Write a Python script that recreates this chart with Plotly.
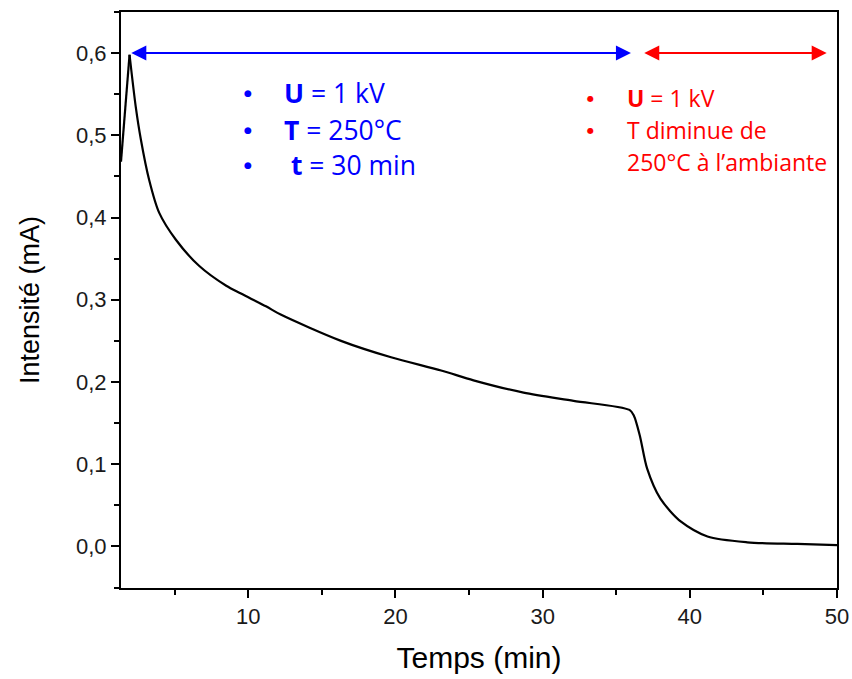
import plotly.graph_objects as go

# Data
temps_min = [1.35, 1.93, 2.35, 2.7, 3.26, 3.94, 5.08, 6.67, 8.5, 9.5, 11.2, 12.2,
             16.3, 19.7, 23.1, 25.3, 28.7, 32.1, 35.9, 36.2, 36.6, 37.1, 38.0,
             39.4, 41.2, 43.9, 47.3, 50.0]
intensite_mA = [0.468, 0.598, 0.535, 0.495, 0.446, 0.406, 0.373, 0.341, 0.317, 0.3075,
                0.292, 0.282, 0.250, 0.230, 0.214, 0.202, 0.187, 0.177, 0.166, 0.159,
                0.135, 0.0945, 0.058, 0.030, 0.012, 0.005, 0.003, 0.0015]
peak_index = 1

phase1_span = [1.95, 36.0]   # isotherm phase (blue arrow)
phase2_span = [36.8, 49.3]   # cooling phase (red arrow)
arrow_level = 0.6

blue_lines = ["<b>U</b> = 1 kV", "<b>T</b> = 250°C", " <b>t</b> = 30 min"]
red_lines = ["<b>U</b> = 1 kV", "T diminue de", "250°C à l’ambiante"]
red_bullets = [True, True, False]

BLUE = "#0000ff"
RED = "#ff0000"

fig = go.Figure()
fig.add_trace(go.Scatter(x=temps_min[:peak_index + 1], y=intensite_mA[:peak_index + 1],
                         mode="lines", line=dict(color="black", width=2.2), showlegend=False))
fig.add_trace(go.Scatter(x=temps_min[peak_index:], y=intensite_mA[peak_index:],
                         mode="lines", line=dict(color="black", width=2.2, shape="spline",
                                                 smoothing=0.8),
                         showlegend=False))

annotations = []
for span, col in [(phase1_span, BLUE), (phase2_span, RED)]:
    annotations.append(dict(x=span[1], y=arrow_level, ax=span[0], ay=arrow_level,
                            xref="x", yref="y", axref="x", ayref="y", text="",
                            showarrow=True, arrowside="end+start", arrowhead=2,
                            startarrowhead=2, arrowsize=1.5, startarrowsize=1.5,
                            arrowwidth=2, arrowcolor=col))

TXT_FONT = "Open Sans"
blue_y = [0.551, 0.506, 0.464]
for txt, yy in zip(blue_lines, blue_y):
    annotations.append(dict(x=10.0, y=yy, xref="x", yref="y", text="●", showarrow=False,
                            xanchor="center", yanchor="middle",
                            font=dict(family="DejaVu Sans", size=9, color=BLUE)))
    annotations.append(dict(x=12.29, y=yy, xref="x", yref="y", text=txt, showarrow=False,
                            xanchor="left", yanchor="middle",
                            font=dict(family=TXT_FONT, size=26.5, color=BLUE)))

red_y = [0.545, 0.506, 0.468]
for txt, yy, b in zip(red_lines, red_y, red_bullets):
    if b:
        annotations.append(dict(x=33.24, y=yy, xref="x", yref="y", text="●", showarrow=False,
                                xanchor="center", yanchor="middle",
                                font=dict(family="DejaVu Sans", size=8, color=RED)))
    annotations.append(dict(x=35.62, y=yy, xref="x", yref="y", text=txt, showarrow=False,
                            xanchor="left", yanchor="middle",
                            font=dict(family=TXT_FONT, size=23, color=RED)))

tickfont = dict(family="Liberation Sans, Arial", size=22, color="#1a1a1a")

fig.update_layout(
    width=852, height=679,
    margin=dict(l=121, r=15, t=12, b=91),
    plot_bgcolor="white", paper_bgcolor="white",
    separators=", ",
    annotations=annotations,
    xaxis=dict(range=[1.35, 50], tick0=0, dtick=10, ticks="outside", ticklen=8,
               tickwidth=1.5, tickcolor="black", showline=True, linewidth=2,
               linecolor="black", mirror=True, showgrid=False, zeroline=False,
               tickfont=tickfont, automargin=False,
               minor=dict(dtick=5, tick0=0, ticks="outside", ticklen=5,
                          tickwidth=1.5, tickcolor="black"),
               title=dict(text="Temps (min)",
                          font=dict(family="Liberation Sans, Arial", size=30, color="black"),
                          standoff=19)),
    yaxis=dict(range=[-0.0506, 0.65], tick0=0, dtick=0.1, tickformat=".1f",
               ticks="outside", ticklen=8, tickwidth=1.5, tickcolor="black",
               showline=True, linewidth=2, linecolor="black", mirror=True,
               showgrid=False, zeroline=False, tickfont=tickfont, automargin=False,
               minor=dict(dtick=0.05, tick0=0, ticks="outside", ticklen=5,
                          tickwidth=1.5, tickcolor="black"),
               title=dict(text="Intensité (mA)",
                          font=dict(family="Liberation Sans, Arial", size=27, color="black"),
                          standoff=29)),
)

fig.write_html("out.html",
               config={"displayModeBar": False},
               post_script="document.body.style.margin='0';"
                           "document.body.style.overflow='hidden';")
